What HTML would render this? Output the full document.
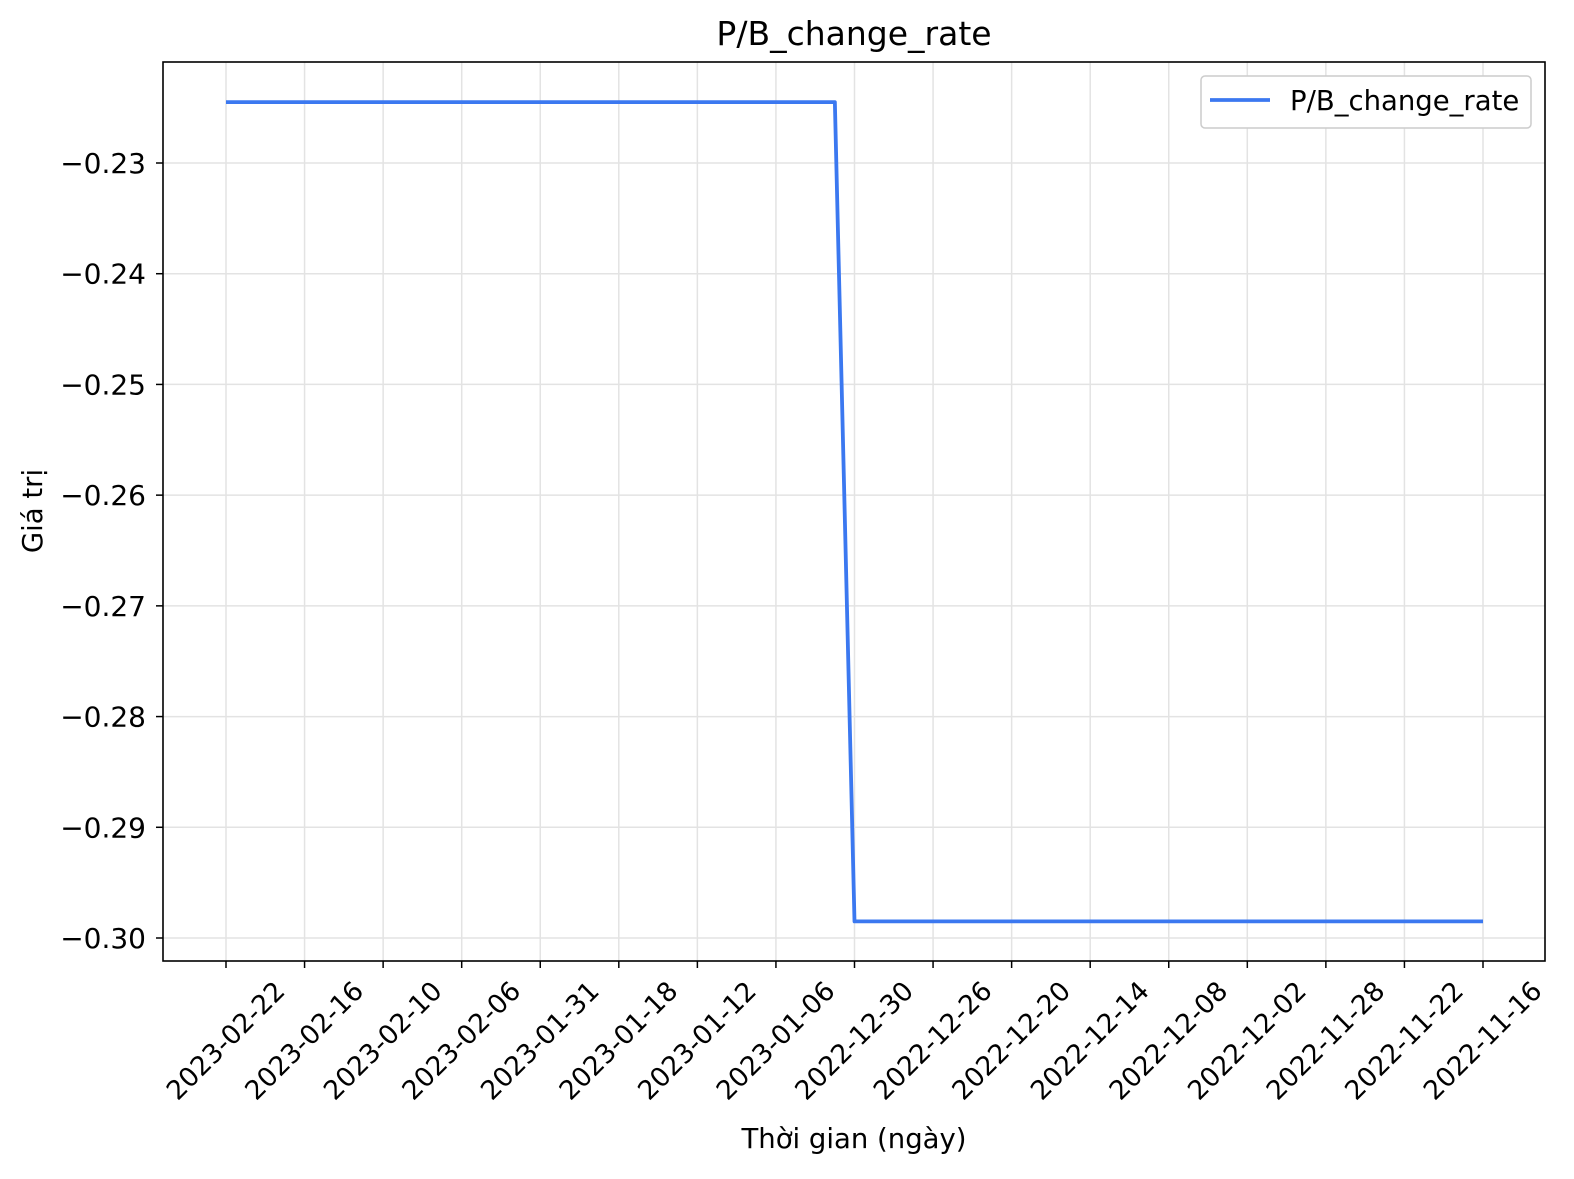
<!DOCTYPE html>
<html><head><meta charset="utf-8"><style>
html,body{margin:0;padding:0;background:#fff}
svg{display:block;font-family:"DejaVu Sans","Liberation Sans",sans-serif}
</style></head><body>
<svg id="chart" width="1574" height="1179" viewBox="0 0 1574 1179" xmlns="http://www.w3.org/2000/svg">
<rect width="1574" height="1179" fill="#fff"/>
<text x="854" y="45" text-anchor="middle" font-size="33" fill="#000">P/B_change_rate</text>
<g id="grid"></g>
<g id="series"></g>
<rect x="163" y="62" width="1382" height="899" fill="none" stroke="#000" stroke-width="1.6"/>
<g id="axes"></g>
<text x="854" y="1148" text-anchor="middle" font-size="27.5" fill="#000">Thời gian (ngày)</text>
<text transform="translate(42,511) rotate(-90)" text-anchor="middle" font-size="27.5" fill="#000">Giá trị</text>
<g>
<rect x="1201" y="76" width="330" height="52" rx="4" fill="#fff" stroke="#ccc" stroke-width="1.5"/>
<line x1="1210" y1="100" x2="1270" y2="100" stroke="#3b78f0" stroke-width="3.8"/>
<text x="1290" y="110" font-size="27.5" fill="#000">P/B_change_rate</text>
</g>
</svg>
<script>
const tickLabels=["2023-02-22","2023-02-16","2023-02-10","2023-02-06","2023-01-31","2023-01-18","2023-01-12","2023-01-06","2022-12-30","2022-12-26","2022-12-20","2022-12-14","2022-12-08","2022-12-02","2022-11-28","2022-11-22","2022-11-16"];
const yTicks=[-0.23,-0.24,-0.25,-0.26,-0.27,-0.28,-0.29,-0.30];
const values=[-0.2245,-0.2245,-0.2245,-0.2245,-0.2245,-0.2245,-0.2245,-0.2245,-0.2245,-0.2245,-0.2245,-0.2245,-0.2245,-0.2245,-0.2245,-0.2245,-0.2245,-0.2245,-0.2245,-0.2245,-0.2245,-0.2245,-0.2245,-0.2245,-0.2245,-0.2245,-0.2245,-0.2245,-0.2245,-0.2245,-0.2245,-0.2245,-0.2985,-0.2985,-0.2985,-0.2985,-0.2985,-0.2985,-0.2985,-0.2985,-0.2985,-0.2985,-0.2985,-0.2985,-0.2985,-0.2985,-0.2985,-0.2985,-0.2985,-0.2985,-0.2985,-0.2985,-0.2985,-0.2985,-0.2985,-0.2985,-0.2985,-0.2985,-0.2985,-0.2985,-0.2985,-0.2985,-0.2985,-0.2985,-0.2985];
const NS="http://www.w3.org/2000/svg";
const n=values.length, step=Math.round((n-1)/(tickLabels.length-1));
const x=i=>226+(i/(n-1))*(1483-226);
const y=v=>163+(-0.23-v)/0.07*(938-163);
const grid=document.getElementById('grid'),axes=document.getElementById('axes'),ser=document.getElementById('series');
function mk(t,a,p){const e=document.createElementNS(NS,t);for(const k in a)e.setAttribute(k,a[k]);p.appendChild(e);return e;}
tickLabels.forEach((lab,k)=>{
  const xx=x(k*step);
  const g=mk('line',{x1:xx,x2:xx,y1:62,y2:961,stroke:'#e3e3e3','stroke-width':1.5},grid);
  
  
  const t=mk('line',{x1:xx,x2:xx,y1:961,y2:968,stroke:'#000','stroke-width':1.5},axes);
  
  
  const tx=mk('text',{transform:`translate(${xx},1041) rotate(-45)`,'text-anchor':'middle','dominant-baseline':'central','font-size':26.5,fill:'#000'},axes);
  tx.textContent=lab;
  
  
});
yTicks.forEach(v=>{
  const yy=y(v);
  const g=mk('line',{x1:163,x2:1545,y1:yy,y2:yy,stroke:'#e3e3e3','stroke-width':1.5},grid);
  
  
  const t=mk('line',{x1:156,x2:163,y1:yy,y2:yy,stroke:'#000','stroke-width':1.5},axes);
  
  
  const tx=mk('text',{x:146,y:yy+10,'text-anchor':'end','font-size':28,fill:'#000'},axes);
  tx.textContent='\u2212'+Math.abs(v).toFixed(2);
  
  
});
const pl=mk('polyline',{points:values.map((v,i)=>x(i)+','+y(v)).join(' '),fill:'none',stroke:'#3b78f0','stroke-width':3.8,'stroke-linejoin':'round'},ser);


</script>
</body></html>
